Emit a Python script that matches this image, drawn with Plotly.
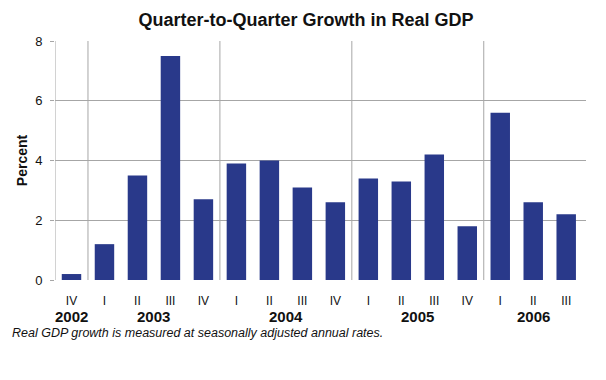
import plotly.graph_objects as go

quarters = ["IV", "I", "II", "III", "IV", "I", "II", "III", "IV", "I", "II", "III", "IV", "I", "II", "III"]
years = ["2002", "2003", "2003", "2003", "2003", "2004", "2004", "2004", "2004",
         "2005", "2005", "2005", "2005", "2006", "2006", "2006"]
growth = [0.2, 1.2, 3.5, 7.5, 2.7, 3.9, 4.0, 3.1, 2.6, 3.4, 3.3, 4.2, 1.8, 5.6, 2.6, 2.2]
y_ticks = [0, 2, 4, 6, 8]

FONT = "Liberation Sans, Arial, sans-serif"
BAR = "#29398a"
GRID = "#a6a6a6"

W, H = 606, 380
ML, MR, MT, MB = 55, 20, 41, 100
plot_w = W - ML - MR
plot_h = H - MT - MB

idx = list(range(len(growth)))

fig = go.Figure(go.Bar(x=idx, y=growth, marker=dict(color=BAR, line=dict(width=0)), width=0.59,
                       hoverinfo="skip"))

shapes = []
annotations = []
groups = {}
for i, yr in enumerate(years):
    groups.setdefault(yr, []).append(i)
for yr, members in groups.items():
    left = members[0] - 0.5
    shapes.append(dict(type="line", xref="x", yref="y", x0=left, x1=left, y0=0, y1=max(y_ticks),
                       line=dict(color=GRID, width=1), layer="below"))
    center = (members[0] + members[-1]) / 2
    annotations.append(dict(x=center, y=(H - MB - 316) / plot_h, xref="x", yref="paper",
                            text="<b>%s</b>" % yr, showarrow=False,
                            font=dict(family=FONT, size=15, color="#111"),
                            xanchor="center", yanchor="middle"))

annotations.append(dict(x=(10 - ML) / plot_w, y=(H - MB - 333) / plot_h, xref="paper", yref="paper",
                        text="<i>Real GDP growth is measured at seasonally adjusted annual rates.</i>",
                        showarrow=False, font=dict(family=FONT, size=12.5, color="#111"),
                        xanchor="left", yanchor="middle"))

fig.update_layout(
    width=W, height=H,
    margin=dict(l=ML, r=MR, t=MT, b=MB, autoexpand=False),
    paper_bgcolor="white", plot_bgcolor="white",
    showlegend=False,
    title=dict(text="<b>Quarter-to-Quarter Growth in Real GDP</b>", x=306 / W, xanchor="center",
               y=1 - 20 / H, yanchor="middle", font=dict(family=FONT, size=18, color="#111")),
    shapes=shapes,
    annotations=annotations,
    font=dict(family=FONT, color="#111"),
)

fig.update_xaxes(range=[-0.5, len(growth) - 0.4], tickmode="array", tickvals=idx, ticktext=quarters,
                 showgrid=False, zeroline=False, showline=False, ticks="", automargin=False,
                 tickfont=dict(family=FONT, size=12, color="#111"), ticklabelstandoff=12)
fig.update_yaxes(range=[0, 8], tickmode="array", tickvals=y_ticks, ticktext=[str(v) for v in y_ticks],
                 showgrid=True, gridcolor=GRID, gridwidth=1, zeroline=False, showline=False,
                 ticks="outside", ticklen=4, tickcolor=GRID, automargin=False,
                 tickfont=dict(family=FONT, size=13, color="#111"), ticklabelstandoff=5,
                 title=dict(text="<b>Percent</b>", font=dict(family=FONT, size=14, color="#111"), standoff=4))

fig.write_html("out.html", config={"displayModeBar": False},
               post_script="document.body.style.margin='0';")
